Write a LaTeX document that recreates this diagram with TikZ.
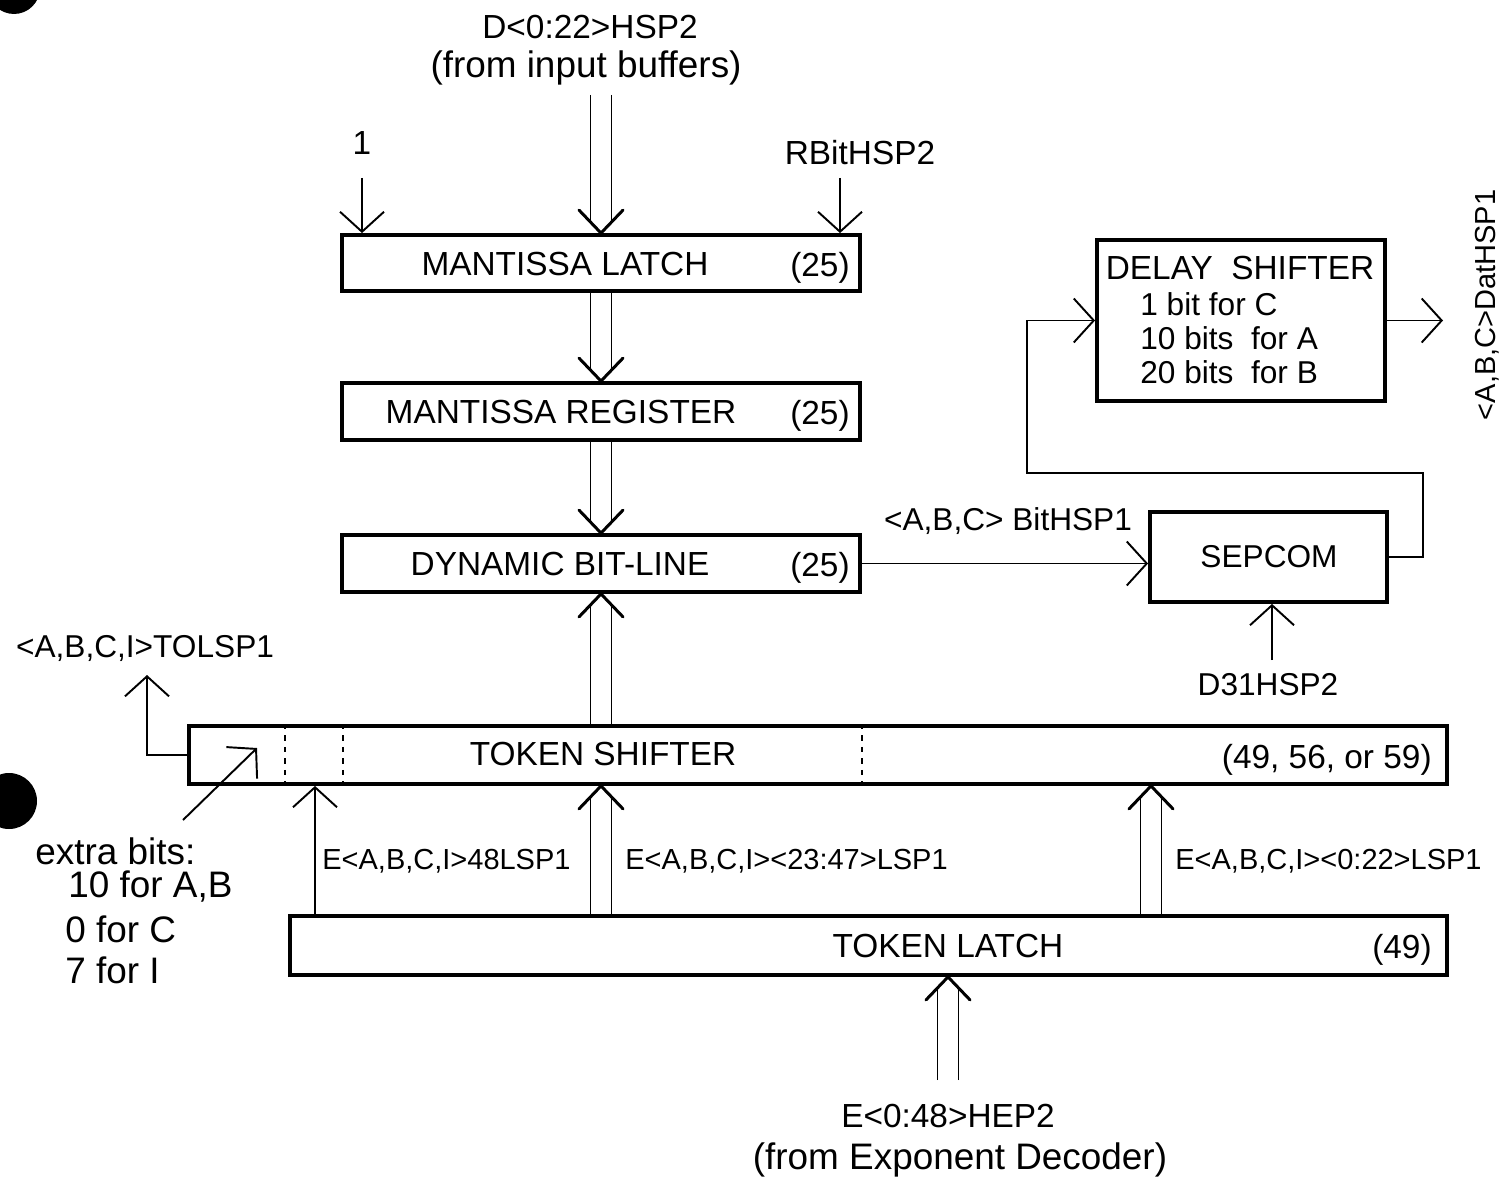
\documentclass[tikz,border=0pt]{standalone}
\usepackage{fontspec}
\setmainfont{Liberation Sans}
\usetikzlibrary{arrows.meta,calc}

\newlength\px
\setlength\px{0.02cm}
\newcommand\fa{\fontsize{19}{22}\selectfont}
\newcommand\fb{\fontsize{16.5}{20}\selectfont}
\newcommand\fc{\fontsize{21}{25}\selectfont}
\newcommand\fd{\fontsize{18}{21}\selectfont}

\tikzset{
  blk/.style={draw, line width=2.2pt, inner sep=0pt},
  txt/.style={inner sep=0pt, font=\fa},
  sig/.style={line width=1.1pt, -{Straight Barb[length=4mm, width=8.8mm, line width=1.1pt]}},
  wire/.style={line width=1.1pt},
  busline/.style={line width=1.1pt},
  busv/.style={line width=1.7pt, line join=round, line cap=round},
  divl/.style={line width=1.3pt, dash pattern=on 3pt off 3.5pt},
}

% bus arrow: #1 start, #2 tip
\newcommand\busgap{0.21cm}
\newcommand\busarm{0.44cm}
\newcommand\busdepth{0.46cm}
\newcommand\businner{0.22cm}
\newcommand\busarrow[2]{%
  \path ($#2!\businner!#1$) coordinate (bi) ($#2!\busdepth!#1$) coordinate (bh);
  \draw[busline] ($#1!\busgap!90:#2$) -- ($(bi)!\busgap!90:#2$)
                 ($#1!\busgap!-90:#2$) -- ($(bi)!\busgap!-90:#2$);
  \draw[busv] ($(bh)!\busarm!90:#2$) -- #2 -- ($(bh)!\busarm!-90:#2$);
}

\begin{document}
\begin{tikzpicture}[x=1\px, y=-1\px]
  \useasboundingbox (0,0) rectangle (1507,1179);

  % Punch holes
  \fill (14,-12) circle[radius=26];
  \fill (9,801) circle[radius=28];

  % Blocks
  \node[blk, minimum width=518\px, minimum height=56\px] (ml) at (601,263) {};
  \node[blk, minimum width=518\px, minimum height=57\px] (mr) at (601,411.5) {};
  \node[blk, minimum width=518\px, minimum height=57\px] (dbl) at (601,563.5) {};
  \node[blk, minimum width=288\px, minimum height=161\px] (ds) at (1241,320.5) {};
  \node[blk, minimum width=237\px, minimum height=90\px] (sc) at (1268.5,557) {};
  \node[blk, minimum width=1258\px, minimum height=58\px] (ts) at (818,755) {};
  \node[blk, minimum width=1157\px, minimum height=59\px] (tl) at (868.5,945.5) {};

  % Block texts
  \node[txt] (mlt) at (565,264) {MANTISSA LATCH};
  \node[txt, anchor=base east] (mln) at (850,276) {(25)};
  \node[txt] (mrt) at (561,412) {MANTISSA REGISTER};
  \node[txt, anchor=base east] (mrn) at (850,424) {(25)};
  \node[txt] (dblt) at (560,564) {DYNAMIC BIT-LINE};
  \node[txt, anchor=base east] (dbln) at (850,576) {(25)};
  \node[txt] (tst) at (603,754) {TOKEN SHIFTER};
  \node[txt, anchor=base east] (tsn) at (1432,768) {(49, 56, or 59)};
  \node[txt] (tlt) at (948,946) {TOKEN LATCH};
  \node[txt, anchor=base east] (tln) at (1432,958) {(49)};
  \node[txt] (dst) at (1240,268) {DELAY\ \ SHIFTER};
  \node[txt, font=\fd, anchor=west] (ds1) at (1140,304) {1 bit for C};
  \node[txt, font=\fd, anchor=west] (ds2) at (1140,338) {10 bits\ \ for A};
  \node[txt, font=\fd, anchor=west] (ds3) at (1140,372) {20 bits\ \ for B};
  \node[txt, font=\fd] (sct) at (1269,557) {SEPCOM};

  % Token shifter fields
  \foreach \x in {98,156,675}
    \draw[divl] ([xshift=\x\px]ts.north west) -- ([xshift=\x\px]ts.south west);

  % Inputs at the top
  \node[txt] (dlbl) at (590,27) {D<0:22>HSP2};
  \node[txt, font=\fc] (dsrc) at (586,68) {(from input buffers)};
  \coordinate (din) at (601,95);
  \busarrow{(din)}{(ml.north)}
  \node[txt] (lone) at (362,143) {1};
  \coordinate (one) at (362,178);
  \draw[sig] (one) -- (one |- ml.north);
  \node[txt] (lrbit) at (860,153) {RBitHSP2};
  \coordinate (rbit) at (840,178);
  \draw[sig] (rbit) -- (rbit |- ml.north);

  % Mantissa path
  \busarrow{(ml.south)}{(mr.north)}
  \busarrow{(mr.south)}{(dbl.north)}
  \busarrow{(ts.north -| dbl.south)}{(dbl.south)}

  % Sepcom and delay shifter
  \draw[sig] (dbl.east) -- (sc.west |- dbl.east);
  \node[txt, font=\fd] (lbit) at (1008,521) {<A,B,C> BitHSP1};
  \node[txt, font=\fd] (ld31) at (1268,685) {D31HSP2};
  \coordinate (d31) at (1272,660);
  \draw[sig] (d31) -- (d31 |- sc.south);
  \coordinate (fbr) at (1423,473);
  \coordinate (fbl) at (1027,473);
  \draw[sig] (sc.east) -| (fbr) -- (fbl) |- (ds.west);
  \coordinate (dout) at (1443,320.5);
  \draw[sig] (ds.east) -- (dout);
  \node[txt, font=\fb, rotate=90] (ldat) at (1487,305) {<A,B,C>DatHSP1};

  % Token shifter outputs
  \coordinate (tolo) at (147,675);
  \draw[sig] (ts.west) -| (tolo);
  \node[txt, font=\fd] (ltol) at (145,648) {<A,B,C,I>TOLSP1};
  \coordinate (xb) at (183,820);
  \coordinate (xbt) at (257,748);
  \draw[sig] (xb) -- (xbt);
  \node[txt, font=\fc, anchor=west] (xb0) at (35,851) {extra bits:};
  \node[txt, font=\fc, anchor=west] (xb1) at (68,887) {10 for A,B};
  \node[txt, font=\fc, anchor=west] (xb2) at (65,929) {0 for C};
  \node[txt, font=\fc, anchor=west] (xb3) at (65,970) {7 for I};

  % Token latch to token shifter
  \coordinate (c48) at (315,0);
  \coordinate (c23) at (601,0);
  \coordinate (c0) at (1151,0);
  \draw[sig] (c48 |- tl.north) -- (c48 |- ts.south);
  \busarrow{(c23 |- tl.north)}{(c23 |- ts.south)}
  \busarrow{(c0 |- tl.north)}{(c0 |- ts.south)}
  \node[txt, font=\fb, anchor=west] (l48) at (322,861) {E<A,B,C,I>48LSP1};
  \node[txt, font=\fb, anchor=west] (l23) at (625,861) {E<A,B,C,I><23:47>LSP1};
  \node[txt, font=\fb, anchor=west] (l0) at (1175,861) {E<A,B,C,I><0:22>LSP1};

  % Input from exponent decoder
  \coordinate (ein) at (948,1080);
  \busarrow{(ein)}{(ein |- tl.south)}
  \node[txt] (elbl) at (948,1116) {E<0:48>HEP2};
  \node[txt, font=\fc] (esrc) at (960,1160) {(from Exponent Decoder)};
\end{tikzpicture}
\end{document}
